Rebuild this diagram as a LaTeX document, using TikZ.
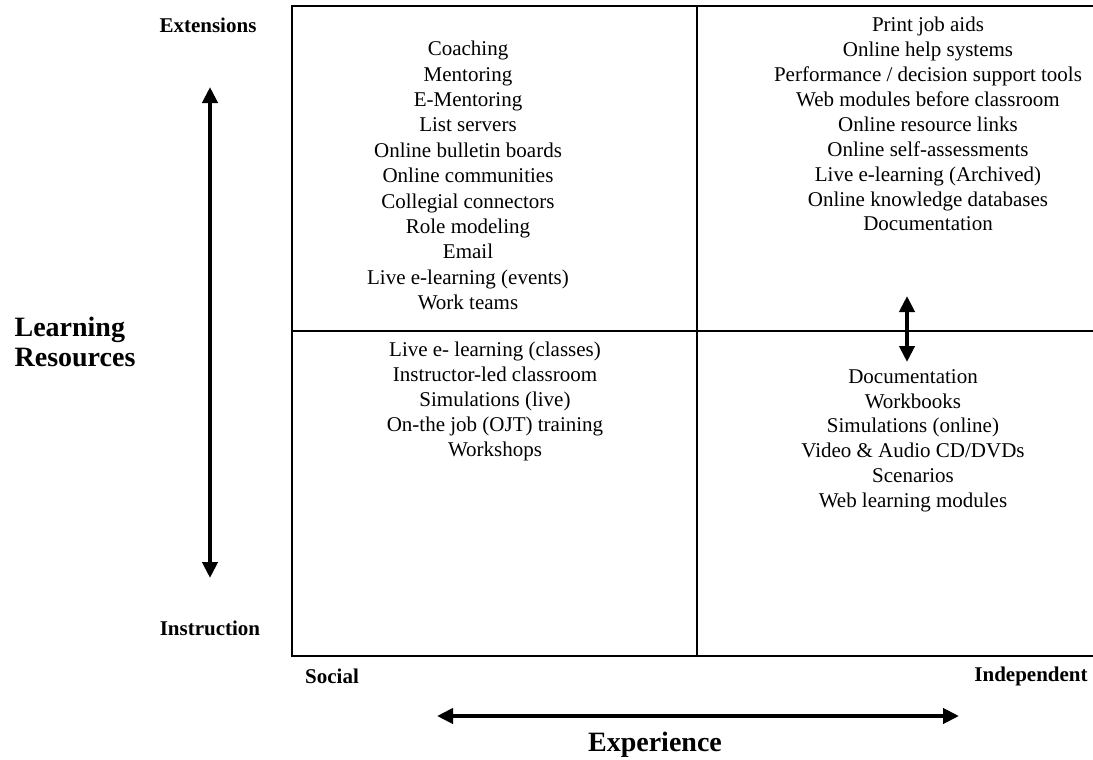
\documentclass[tikz,border=0pt]{standalone}
\usepackage{fontspec}
\setmainfont{Liberation Serif}
\usetikzlibrary{arrows.meta}
\begin{document}
\begin{tikzpicture}[x=1pt,y=-1pt,
  grid/.style={line width=1.4pt},
  bigarrow/.style={line width=4.5pt,{Triangle[length=16pt,width=15pt]}-{Triangle[length=16pt,width=15pt]}},
  itemlist/.style={align=center,font=\fontsize{21}{24.9}\selectfont,inner sep=0pt,anchor=north},
  axislabel/.style={font=\fontsize{21}{24}\selectfont\bfseries,inner sep=0pt},
  biglabel/.style={font=\fontsize{28}{30}\selectfont\bfseries,inner sep=0pt,align=left}]
\useasboundingbox (0,0) rectangle (1093,760);
% grid
\coordinate (tl) at (292,6);
\coordinate (tr) at (1093,6);
\coordinate (bl) at (292,656);
\coordinate (br) at (1093,656);
\coordinate (mt) at (697,6);
\coordinate (mb) at (697,656);
\coordinate (ml) at (292,331);
\coordinate (mr) at (1093,331);
\draw[grid] (tr) -- (tl) -- (bl) -- (br);
\draw[grid] (mt) -- (mb);
\draw[grid] (ml) -- (mr);
% quadrant texts
\node[itemlist,font=\fontsize{21}{25.4}\selectfont] (q1) at (468,41) {Coaching\\Mentoring\\E-Mentoring\\List servers\\Online bulletin boards\\Online communities\\Collegial connectors\\Role modeling\\Email\\Live e-learning (events)\\Work teams};
\node[itemlist] (q2) at (928,17) {Print job aids\\Online help systems\\Performance / decision support tools\\Web modules before classroom\\Online resource links\\Online self-assessments\\Live e-learning (Archived)\\Online knowledge databases\\Documentation};
\node[itemlist] (q3) at (495,342) {Live e- learning (classes)\\Instructor-led classroom\\Simulations (live)\\On-the job (OJT) training\\Workshops};
\node[itemlist] (q4) at (913,369) {Documentation\\Workbooks\\Simulations (online)\\Video \& Audio CD/DVDs\\Scenarios\\Web learning modules};
% axis labels
\node[axislabel] (ext) at (208,25) {Extensions};
\node[axislabel] (ins) at (210,628) {Instruction};
\node[axislabel] (soc) at (332,676) {Social};
\node[axislabel] (ind) at (1031,676) {Independent};
\node[biglabel] (lr) at (75,342) {Learning\\Resources};
\node[biglabel] (exp) at (655,745) {Experience};
% arrows
\coordinate (va) at (210,87);
\coordinate (vb) at (210,578);
\coordinate (ha) at (437,716);
\coordinate (hb) at (959,716);
\coordinate (sa) at (907,296);
\coordinate (sb) at (907,362);
\draw[bigarrow] (va) -- (vb);
\draw[bigarrow] (ha) -- (hb);
\draw[bigarrow] (sa) -- (sb);
\end{tikzpicture}
\end{document}
